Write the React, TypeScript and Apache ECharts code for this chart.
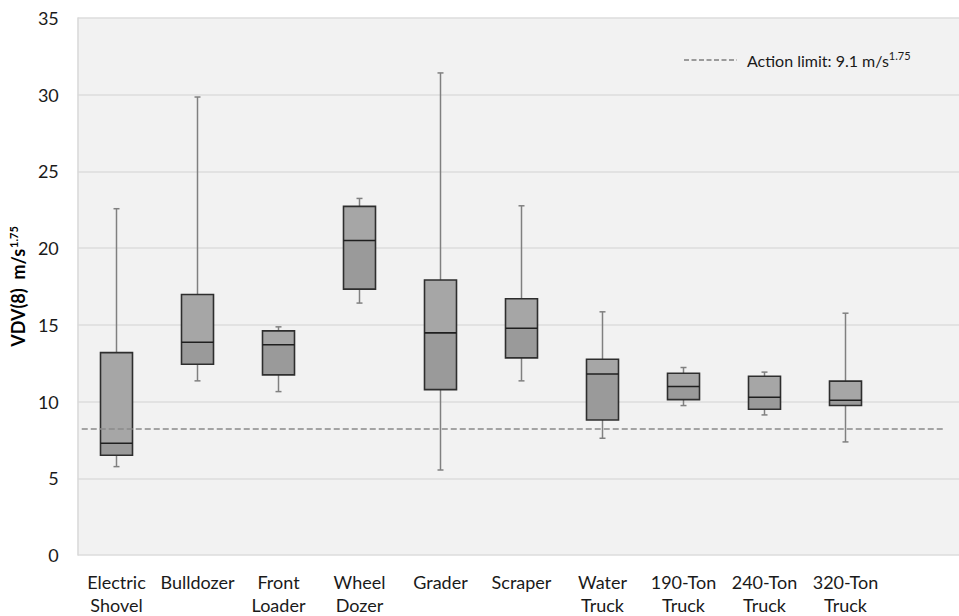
import React, { useEffect, useRef } from "react";
import * as echarts from "echarts";

const categories = [
  "Electric\nShovel",
  "Bulldozer",
  "Front\nLoader",
  "Wheel\nDozer",
  "Grader",
  "Scraper",
  "Water\nTruck",
  "190-Ton\nTruck",
  "240-Ton\nTruck",
  "320-Ton\nTruck",
];

const whiskerMin = [5.76, 11.35, 10.65, 16.42, 5.54, 11.35, 7.61, 9.74, 9.13, 7.37];
const quartile1 = [6.5, 12.43, 11.74, 17.33, 10.78, 12.85, 8.8, 10.13, 9.5, 9.74];
const medians = [7.28, 13.87, 13.7, 20.5, 14.48, 14.78, 11.8, 10.98, 10.28, 10.09];
const quartile3 = [13.19, 16.98, 14.61, 22.72, 17.92, 16.7, 12.76, 11.85, 11.65, 11.33];
const whiskerMax = [22.57, 29.85, 14.87, 23.24, 31.42, 22.76, 15.85, 12.22, 11.92, 15.76];

const yTicks = [0, 5, 10, 15, 20, 25, 30, 35];
const actionLineValue = 8.22;
const actionLineSpan = [0.0045, 0.982];

const FONT = "Lato";

export default function App() {
  const ref = useRef<HTMLDivElement>(null);

  useEffect(() => {
    if (!ref.current) return;
    const chart = echarts.init(ref.current, null, { renderer: "svg" });

    const boxData = categories.map((_, i) => [
      i,
      whiskerMin[i],
      quartile1[i],
      medians[i],
      quartile3[i],
      whiskerMax[i],
    ]);

    const option: any = {
      animation: false,
      backgroundColor: "#ffffff",
      grid: [
        {
          left: 76,
          right: 0,
          top: 18,
          bottom: 61,
          show: true,
          backgroundColor: "#f2f2f2",
          borderWidth: 0,
        },
        {
          left: 76,
          width: 810,
          top: 18,
          bottom: 61,
        },
      ],
      xAxis: [
        {
          gridIndex: 0,
          type: "value",
          min: 0,
          max: 1,
          show: false,
        },
        {
          gridIndex: 1,
          type: "category",
          data: categories,
          boundaryGap: true,
          axisLine: { show: false },
          axisTick: { show: false },
          axisLabel: {
            interval: 0,
            margin: 15,
            color: "#1a1a1a",
            fontFamily: FONT,
            fontSize: 18,
            lineHeight: 23,
          },
        },
      ],
      yAxis: [
        {
          gridIndex: 0,
          type: "value",
          min: yTicks[0],
          max: yTicks[yTicks.length - 1],
          interval: 5,
          axisLine: { show: true, lineStyle: { color: "#d9d9d9", width: 1.5 } },
          axisTick: { show: false },
          splitLine: { show: true, lineStyle: { color: "#dcdcdc", width: 1.5 } },
          axisLabel: {
            margin: 19,
            color: "#1a1a1a",
            fontFamily: FONT,
            fontSize: 18,
          },
          name: "{b|VDV(8)  m/s}{sup|1.75}",
          nameLocation: "middle",
          nameGap: 49,
          nameRotate: 90,
          nameTextStyle: {
            rich: {
              b: {
                fontFamily: FONT,
                fontWeight: "bold",
                fontSize: 18,
                color: "#000000",
              },
              sup: {
                fontFamily: FONT,
                fontWeight: "bold",
                fontSize: 11,
                color: "#000000",
                verticalAlign: "top",
                padding: [0, 0, 9, 1],
              },
            },
          },
        },
        {
          gridIndex: 1,
          type: "value",
          min: yTicks[0],
          max: yTicks[yTicks.length - 1],
          show: false,
          splitLine: { show: false },
        },
      ],
      graphic: [
        {
          type: "line",
          shape: { x1: 684, y1: 60, x2: 737, y2: 60 },
          style: { stroke: "#7f7f7f", lineWidth: 1.3, lineDash: [5, 2.5] },
        },
        {
          type: "text",
          x: 747,
          y: 60,
          style: {
            text: "{t|Action limit: 9.1 m/s}{s|1.75}",
            verticalAlign: "middle",
            rich: {
              t: { fontFamily: FONT, fontSize: 16, fill: "#1a1a1a" },
              s: {
                fontFamily: FONT,
                fontSize: 11,
                fill: "#1a1a1a",
                padding: [0, 0, 9, 0],
              },
            },
          },
        },
      ],
      series: [
        {
          type: "line",
          xAxisIndex: 0,
          yAxisIndex: 0,
          data: [
            [actionLineSpan[0], actionLineValue],
            [actionLineSpan[1], actionLineValue],
          ],
          showSymbol: false,
          symbol: "none",
          lineStyle: { color: "#8a8a8a", width: 1.5, type: [6, 3] },
          silent: true,
          z: 5,
        },
        {
          type: "custom",
          xAxisIndex: 1,
          yAxisIndex: 1,
          data: boxData,
          z: 3,
          renderItem: (params: any, api: any) => {
            const x = api.value(0);
            const pMin = api.coord([x, api.value(1)]);
            const pQ1 = api.coord([x, api.value(2)]);
            const pMed = api.coord([x, api.value(3)]);
            const pQ3 = api.coord([x, api.value(4)]);
            const pMax = api.coord([x, api.value(5)]);
            const band = api.size([1, 0])[0];
            const bw = band * 0.395;
            const cx = pMed[0];
            const cap = 3;
            const whiskerStyle = { stroke: "#808080", lineWidth: 1.5 };
            return {
              type: "group",
              children: [
                {
                  type: "line",
                  shape: { x1: cx, y1: pQ3[1], x2: cx, y2: pMax[1] },
                  style: whiskerStyle,
                },
                {
                  type: "line",
                  shape: { x1: cx - cap, y1: pMax[1], x2: cx + cap, y2: pMax[1] },
                  style: whiskerStyle,
                },
                {
                  type: "line",
                  shape: { x1: cx, y1: pQ1[1], x2: cx, y2: pMin[1] },
                  style: whiskerStyle,
                },
                {
                  type: "line",
                  shape: { x1: cx - cap, y1: pMin[1], x2: cx + cap, y2: pMin[1] },
                  style: whiskerStyle,
                },
                {
                  type: "rect",
                  shape: { x: cx - bw / 2, y: pQ3[1], width: bw, height: pMed[1] - pQ3[1] },
                  style: { fill: "#a6a6a6", stroke: null },
                },
                {
                  type: "rect",
                  shape: { x: cx - bw / 2, y: pMed[1], width: bw, height: pQ1[1] - pMed[1] },
                  style: { fill: "#9a9a9a", stroke: null },
                },
                {
                  type: "rect",
                  shape: { x: cx - bw / 2, y: pQ3[1], width: bw, height: pQ1[1] - pQ3[1] },
                  style: { fill: "none", stroke: "#2e2e2e", lineWidth: 1.6 },
                },
                {
                  type: "line",
                  shape: { x1: cx - bw / 2, y1: pMed[1], x2: cx + bw / 2, y2: pMed[1] },
                  style: { stroke: "#1f1f1f", lineWidth: 1.6 },
                },
              ],
            };
          },
        },
      ],
    };

    chart.setOption(option);
    return () => chart.dispose();
  }, []);

  return <div ref={ref} style={{ width: 959, height: 616, position: "absolute", left: 0, top: 0 }} />;
}
